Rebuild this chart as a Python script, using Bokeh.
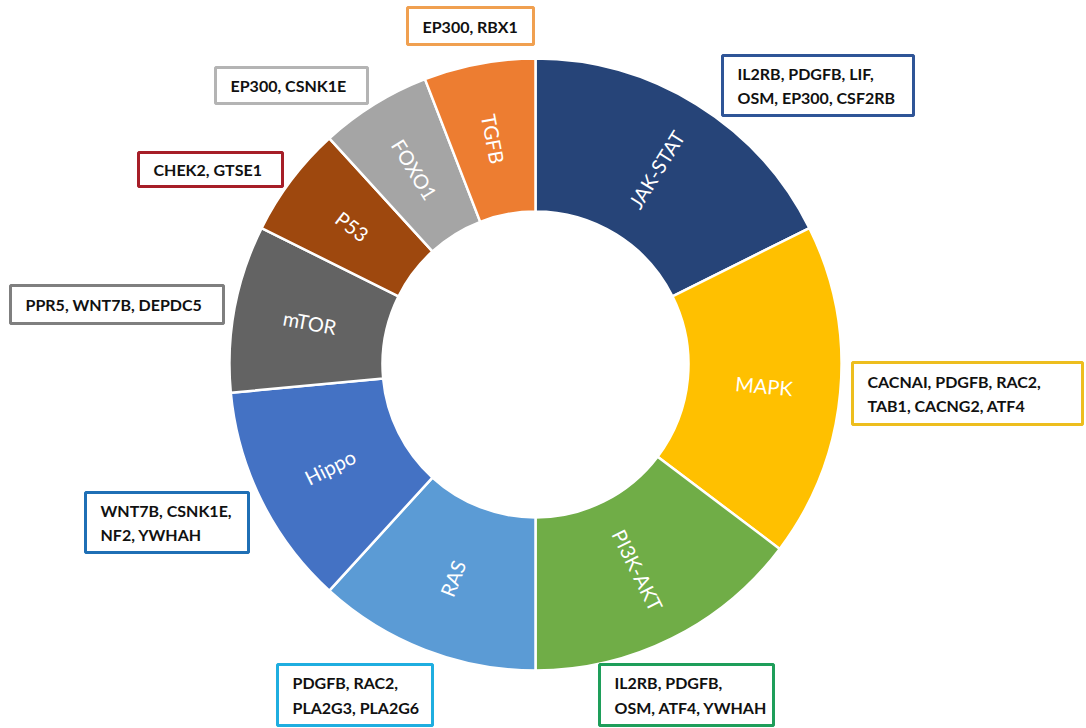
import numpy as np
from bokeh.plotting import figure
from bokeh.models import Range1d, ColumnDataSource
from bokeh.core.properties import value
from bokeh.embed import file_html
from bokeh.resources import INLINE

# ---------------- data ----------------
pathways = ["JAK-STAT", "MAPK", "PI3K-AKT", "RAS", "Hippo", "mTOR", "P53", "FOXO1", "TGFB"]
gene_counts = [6, 6, 5, 4, 4, 3, 2, 2, 2]
gene_lists = [
    "IL2RB, PDGFB, LIF,\nOSM, EP300, CSF2RB",
    "CACNAI, PDGFB, RAC2,\nTAB1, CACNG2, ATF4",
    "IL2RB, PDGFB,\nOSM, ATF4, YWHAH",
    "PDGFB, RAC2,\nPLA2G3, PLA2G6",
    "WNT7B, CSNK1E,\nNF2, YWHAH",
    "PPR5, WNT7B, DEPDC5",
    "CHEK2, GTSE1",
    "EP300, CSNK1E",
    "EP300, RBX1",
]

# ---------------- styles / layout ----------------
wedge_colors = ["#264478", "#FFC000", "#70AD47", "#5B9BD5", "#4472C4",
                "#636363", "#9E480E", "#A5A5A5", "#ED7D31"]
box_colors = ["#2F5597", "#EDBE1E", "#1E9E5A", "#1FAEE0", "#1F6FB5",
              "#7F7F7F", "#A61E28", "#B4B4B4", "#F0A050"]
# boxes in page pixels: left, top, right, bottom
box_left = [722, 852, 599, 277, 85, 10, 138, 215, 407]
box_top = [55, 362, 664, 664, 492, 285, 152, 67, 7]
box_right = [913, 1082, 773, 432, 248, 223, 282, 367, 533]
box_bottom = [115, 424, 725, 725, 552, 323, 186, 103, 44]

W, H = 1086, 728
cx, cy = 535, 364  # page pixel centre
r_in, r_out = 153, 306

p = figure(width=W, height=H, output_backend="svg", toolbar_location=None,
           x_range=Range1d(0, W), y_range=Range1d(0, H),
           x_axis_location=None, y_axis_location=None, min_border=0)
p.xgrid.grid_line_color = None
p.ygrid.grid_line_color = None
p.outline_line_color = None
p.background_fill_color = "white"

counts = np.array(gene_counts, dtype=float)
cum = np.cumsum(counts)
theta_end = 2 * np.pi * cum / counts.sum()          # clockwise from top
theta_start = np.concatenate([[0.0], theta_end[:-1]])
theta_mid = (theta_start + theta_end) / 2

src = ColumnDataSource(dict(
    start=np.pi / 2 - theta_start,
    end=np.pi / 2 - theta_end,
    color=wedge_colors,
))
p.annular_wedge(x=cx, y=H - cy, inner_radius=r_in, outer_radius=r_out,
                start_angle="start", end_angle="end", direction="clock",
                fill_color="color", line_color="white", line_width=2.5, source=src)

r_mid = (r_in + r_out) / 2
lx = cx + r_mid * np.sin(theta_mid)
ly = (H - cy) + r_mid * np.cos(theta_mid)
deg_mid = np.degrees(theta_mid)
rot = np.where(deg_mid < 180, 90 - deg_mid, 270 - deg_mid)
p.text(x=lx, y=ly, text=pathways, angle=np.radians(rot),
       text_align="center", text_baseline="middle",
       text_color="white", text_font=value("Lato"), text_font_size="20px")

# annotation boxes
bl = np.array(box_left, float); br = np.array(box_right, float)
bt = H - np.array(box_top, float); bb = H - np.array(box_bottom, float)
p.quad(left=bl, right=br, top=bt, bottom=bb, fill_color="white",
       line_color=box_colors, line_width=3)
p.text(x=bl + 15, y=(bt + bb) / 2, text=gene_lists,
       text_align="left", text_baseline="middle", text_line_height=1.3,
       text_color="#111111", text_font=value("Lato"), text_font_style="bold",
       text_font_size="16px")

open("out.html", "w").write(file_html(p, INLINE))
